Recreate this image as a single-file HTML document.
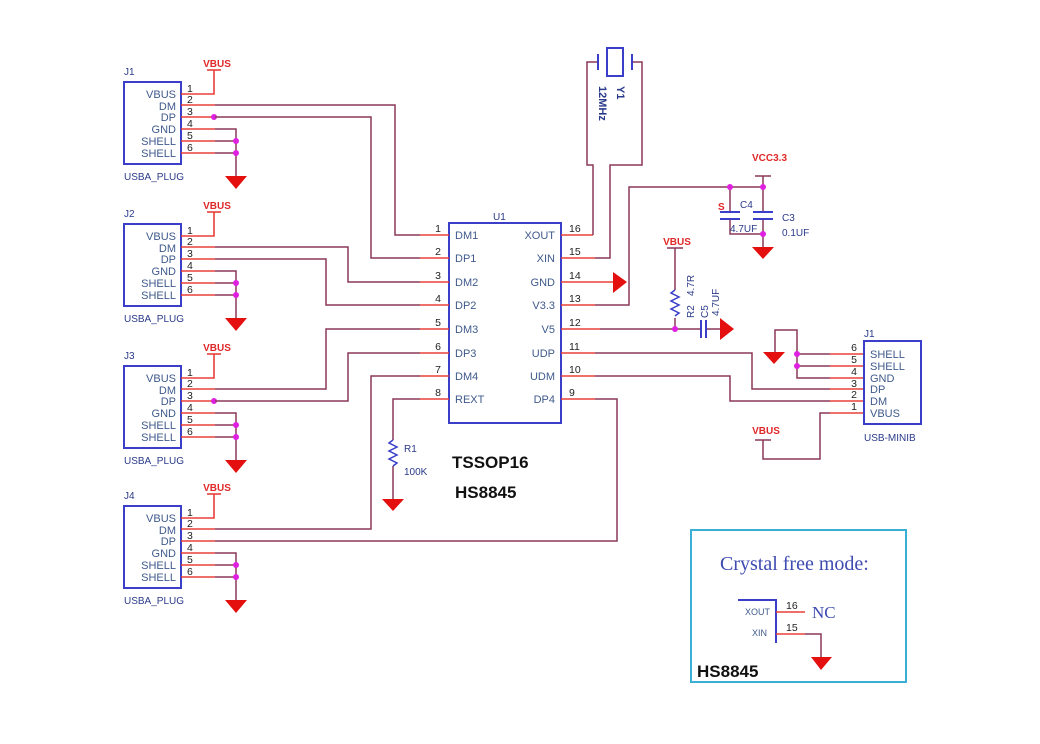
<!DOCTYPE html>
<html><head><meta charset="utf-8"><style>
html,body{margin:0;padding:0;background:#fff}
svg{display:block}
text{font-family:"Liberation Sans",sans-serif}
text.serif{font-family:"Liberation Serif",serif}
.lb{fill:#3f5a8c;font-size:11px}
.nm{fill:#222;font-size:10.5px}
.rd{fill:#e02828;font-size:10px;font-weight:bold}
.bl{fill:#2a3a8a;font-size:10px}
.pin{stroke:#e8403a;stroke-width:1.6;fill:none}
.w{stroke:#8a3858;stroke-width:1.5;fill:none}
.box{stroke:#3a3ec8;stroke-width:2;fill:none}
.gnd{fill:#e41010}
.dot{fill:#e020e0}
</style></head><body>
<svg width="1040" height="744" viewBox="0 0 1040 744" xmlns="http://www.w3.org/2000/svg">
<defs>
<g id="usba">
<rect x="124" y="82" width="57" height="82" class="box"/>
<g class="lb" text-anchor="end">
<text x="176" y="98">VBUS</text><text x="176" y="110">DM</text><text x="176" y="121">DP</text>
<text x="176" y="133">GND</text><text x="176" y="145">SHELL</text><text x="176" y="157">SHELL</text>
</g>
<g class="pin">
<path d="M181 94H214V70"/><path d="M181 105H215"/><path d="M181 117H215"/>
<path d="M181 129H215"/><path d="M181 141H215"/><path d="M181 153H215"/>
</g>
<path d="M207 70H221" stroke="#e8403a" stroke-width="1.6"/>
<text x="217" y="67" class="rd" text-anchor="middle">VBUS</text>
<g class="nm">
<text x="187" y="92">1</text><text x="187" y="103">2</text><text x="187" y="115">3</text>
<text x="187" y="127">4</text><text x="187" y="139">5</text><text x="187" y="151">6</text>
</g>
<path d="M215 129H236V177M215 141H236M215 153H236" class="w"/>
<circle cx="236" cy="141" r="3" class="dot"/><circle cx="236" cy="153" r="3" class="dot"/>
<path d="M225 176H247L236 189Z" class="gnd"/>
<text x="124" y="180" class="bl">USBA_PLUG</text>
</g>
</defs>
<use href="#usba"/>
<use href="#usba" transform="translate(0,142)"/>
<use href="#usba" transform="translate(0,284)"/>
<use href="#usba" transform="translate(0,424)"/>
<g class="bl"><text x="124" y="75">J1</text><text x="124" y="217">J2</text><text x="124" y="359">J3</text><text x="124" y="499">J4</text></g>
<circle cx="214" cy="117" r="3" class="dot"/><circle cx="214" cy="401" r="3" class="dot"/>

<g class="w">
<path d="M215 105H395V235H420"/>
<path d="M215 117H371V258H420"/>
<path d="M215 247H348V282H420"/>
<path d="M215 259H326V305H420"/>
<path d="M215 389H326V329H420"/>
<path d="M215 401H348V353H420"/>
<path d="M215 529H371V376H420"/>
<path d="M215 541H617V399H595"/>
<path d="M420 399H393V440M393 466V500"/>
</g>
<rect x="449" y="223" width="112" height="200" class="box"/>
<text x="493" y="220" class="bl">U1</text>
<g class="pin">
<path d="M420 235H449M420 258H449M420 282H449M420 305H449M420 329H449M420 353H449M420 376H449M420 399H449"/>
<path d="M561 235H593M561 258H595M561 282H613M561 305H595M561 329H600M561 353H595M561 376H595M561 399H595"/>
</g>
<g class="nm" text-anchor="end">
<text x="441" y="232">1</text><text x="441" y="255">2</text><text x="441" y="279">3</text><text x="441" y="302">4</text>
<text x="441" y="326">5</text><text x="441" y="350">6</text><text x="441" y="373">7</text><text x="441" y="396">8</text>
</g>
<g class="nm">
<text x="569" y="232">16</text><text x="569" y="255">15</text><text x="569" y="279">14</text><text x="569" y="302">13</text>
<text x="569" y="326">12</text><text x="569" y="350">11</text><text x="569" y="373">10</text><text x="569" y="396">9</text>
</g>
<g class="lb">
<text x="455" y="239">DM1</text><text x="455" y="262">DP1</text><text x="455" y="286">DM2</text><text x="455" y="309">DP2</text>
<text x="455" y="333">DM3</text><text x="455" y="357">DP3</text><text x="455" y="380">DM4</text><text x="455" y="403">REXT</text>
</g>
<g class="lb" text-anchor="end">
<text x="555" y="239">XOUT</text><text x="555" y="262">XIN</text><text x="555" y="286">GND</text><text x="555" y="309">V3.3</text>
<text x="555" y="333">V5</text><text x="555" y="357">UDP</text><text x="555" y="380">UDM</text><text x="555" y="403">DP4</text>
</g>
<path d="M393 440l-4 3l8 4l-8 4l8 4l-8 4l8 4l-4 3" stroke="#3a3ec8" stroke-width="1.5" fill="none"/>
<text x="404" y="452" class="bl">R1</text><text x="404" y="475" class="bl">100K</text>
<path d="M382 499H404L393 511Z" class="gnd"/>
<text x="452" y="468" font-size="17" font-weight="bold" fill="#111" style="font-size:17px">TSSOP16</text>
<text x="455" y="498" font-size="17" font-weight="bold" fill="#111" style="font-size:17px">HS8845</text>

<g class="w">
<path d="M593 235V165H587V62H598"/>
<path d="M595 258H610V165H642V62H632"/>
</g>
<path d="M598 54V70M632 54V70" stroke="#3a3ec8" stroke-width="2"/>
<rect x="607" y="48" width="16" height="28" class="box"/>
<text transform="translate(617,86) rotate(90)" class="bl" style="font-weight:bold;font-size:11px">Y1</text>
<text transform="translate(599,86) rotate(90)" class="bl" style="font-weight:bold;font-size:11px">12MHz</text>
<path d="M613 272L627 282L613 293Z" class="gnd"/>

<path d="M595 305H629V187H763V176M730 187V211M730 219V234H763M763 187V211M763 219V247" class="w"/>
<path d="M755 176H771" stroke="#8a3858" stroke-width="1.5"/>
<path d="M720 212H740M720 219H740M753 212H773M753 219H773" stroke="#3a3ec8" stroke-width="2"/>
<circle cx="730" cy="187" r="3" class="dot"/><circle cx="763" cy="187" r="3" class="dot"/><circle cx="763" cy="234" r="3" class="dot"/>
<text x="752" y="161" class="rd">VCC3.3</text>
<text x="718" y="210" class="rd">S</text>
<text x="740" y="208" class="bl">C4</text><text x="730" y="232" class="bl">4.7UF</text>
<text x="782" y="221" class="bl">C3</text><text x="782" y="236" class="bl">0.1UF</text>
<path d="M752 247H774L763 259Z" class="gnd"/>

<path d="M600 329H701M706 329H720M675 329V318M675 290V248" class="w"/>
<path d="M667 248H683" stroke="#8a3858" stroke-width="1.5"/>
<text x="677" y="245" class="rd" text-anchor="middle">VBUS</text>
<path d="M675 290l-4 3l8 4l-8 4l8 4l-8 4l8 4l-4 3" stroke="#3a3ec8" stroke-width="1.5" fill="none"/>
<path d="M701 320V338M706 320V338" stroke="#3a3ec8" stroke-width="2"/>
<circle cx="675" cy="329" r="3" class="dot"/>
<path d="M720 318L734 329L720 340Z" class="gnd"/>
<text transform="translate(694,318) rotate(-90)" class="bl">R2</text>
<text transform="translate(694,296) rotate(-90)" class="bl">4.7R</text>
<text transform="translate(708,318) rotate(-90)" class="bl">C5</text>
<text transform="translate(719,316) rotate(-90)" class="bl">4.7UF</text>

<g class="w">
<path d="M595 353H752V389H830"/>
<path d="M595 376H730V401H830"/>
<path d="M830 378H797V330H775V353M797 354H830M797 366H830"/>
<path d="M830 413H820V459H763V440"/>
</g>
<path d="M755 440H771" stroke="#8a3858" stroke-width="1.5"/>
<text x="766" y="434" class="rd" text-anchor="middle">VBUS</text>
<circle cx="797" cy="354" r="3" class="dot"/><circle cx="797" cy="366" r="3" class="dot"/>
<path d="M763 352H785L774 364Z" class="gnd"/>
<g class="pin"><path d="M830 354H864M830 366H864M830 378H864M830 389H864M830 401H864M830 413H864"/></g>
<g class="nm" text-anchor="end">
<text x="857" y="351">6</text><text x="857" y="363">5</text><text x="857" y="375">4</text>
<text x="857" y="387">3</text><text x="857" y="398">2</text><text x="857" y="410">1</text>
</g>
<rect x="864" y="341" width="57" height="83" class="box"/>
<g class="lb">
<text x="870" y="358">SHELL</text><text x="870" y="370">SHELL</text><text x="870" y="382">GND</text>
<text x="870" y="393">DP</text><text x="870" y="405">DM</text><text x="870" y="417">VBUS</text>
</g>
<text x="864" y="337" class="bl">J1</text>
<text x="864" y="441" class="bl">USB-MINIB</text>

<rect x="691" y="530" width="215" height="152" fill="none" stroke="#3ab0d8" stroke-width="2"/>
<text x="720" y="570" class="serif" style="font-size:20px;fill:#3e4bb0">Crystal free mode:</text>
<path d="M738 600H776V643" stroke="#3a3ec8" stroke-width="2" fill="none"/>
<text x="745" y="615" class="lb" style="font-size:9px">XOUT</text>
<text x="752" y="636" class="lb" style="font-size:9px">XIN</text>
<path d="M776 612H805M776 634H805" class="pin"/>
<path d="M805 634H821V657" class="w"/>
<text x="786" y="609" class="nm">16</text><text x="786" y="631" class="nm">15</text>
<text x="812" y="618" class="serif" style="font-size:17px;fill:#3e4bb0">NC</text>
<path d="M811 657H832L821 670Z" class="gnd"/>
<text x="697" y="677" style="font-size:17px;font-weight:bold;fill:#111">HS8845</text>
</svg>
</body></html>
